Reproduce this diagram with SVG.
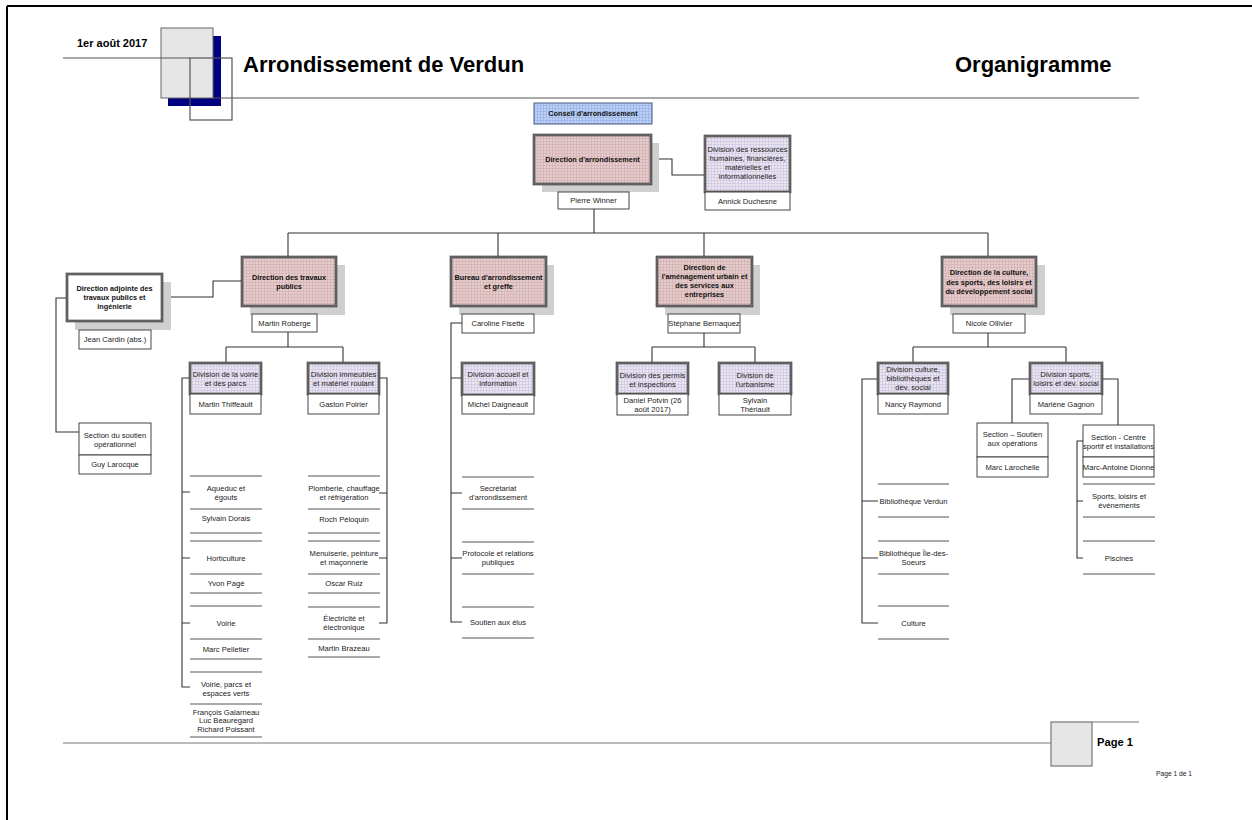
<svg xmlns="http://www.w3.org/2000/svg" width="1252" height="820" viewBox="0 0 1252 820">
<defs>
<pattern id="pk" width="3" height="3" patternUnits="userSpaceOnUse"><rect width="3" height="3" fill="#e6cccc"/><path d="M0,0.5H3M0.5,0V3" stroke="#cfadad" stroke-width="0.6"/></pattern>
<pattern id="lv" width="3" height="3" patternUnits="userSpaceOnUse"><rect width="3" height="3" fill="#eae5f3"/><path d="M0,0.5H3M0.5,0V3" stroke="#cac2da" stroke-width="0.6"/></pattern>
<pattern id="bl" width="3" height="3" patternUnits="userSpaceOnUse"><rect width="3" height="3" fill="#bcd0f6"/><path d="M0,0.5H3M0.5,0V3" stroke="#94afe6" stroke-width="0.6"/></pattern>
</defs>
<style>
.t{font-family:"Liberation Sans",Arial,sans-serif;font-size:7.6px;text-anchor:middle;fill:#222}
.b{font-weight:bold;font-size:7.3px;fill:#111}
.sh{fill:#cfcfcf}
.fo{stroke:#3a3a3a;stroke-width:2.6}
.fi{fill:none;stroke:#9a9a9a;stroke-width:0.8}
.nm{fill:#fff;stroke:#444;stroke-width:1}
.ln{stroke:#555;stroke-width:1;fill:none}
.cn{fill:none;stroke:#333;stroke-width:1.1}
.hd{font-family:"Liberation Sans",Arial,sans-serif;font-weight:bold;fill:#000}
</style>
<rect width="1252" height="820" fill="#fff"/>
<!-- page border -->
<path d="M7,6H1252M7,6V820" stroke="#000" stroke-width="2" fill="none"/>

<!-- header -->
<g id="header">
<text class="hd" x="77" y="47" font-size="11">1er août 2017</text>
<rect x="168" y="36" width="53" height="70" fill="#000080"/>
<rect x="161" y="28" width="52" height="70" fill="#e6e6e6" stroke="#666" stroke-width="1"/>
<path d="M63,58H190M213,98H1139" stroke="#555" stroke-width="1.2" fill="none"/>
<rect x="190" y="58" width="42" height="62" fill="none" stroke="#555" stroke-width="1.2"/>
<text class="hd" x="243" y="72" font-size="22">Arrondissement de Verdun</text>
<text class="hd" x="955" y="72" font-size="22">Organigramme</text>
</g>

<!-- footer -->
<g id="footer">
<path d="M63,743H1051M1092,722H1139" stroke="#777" stroke-width="1.2" fill="none"/>
<rect x="1051" y="722" width="41" height="44" fill="#e6e6e6" stroke="#777" stroke-width="1.2"/>
<text class="hd" x="1097" y="746" font-size="11.2">Page 1</text>
<text x="1156" y="776" font-family="Liberation Sans,Arial,sans-serif" font-size="6.7" fill="#222">Page 1 de 1</text>
</g>

<!-- connectors -->
<g id="connectors" class="cn">
<path d="M651,159H672V175H705"/>
<path d="M594,209V233M288,233H988M288,233V257M498,233V257M704,233V257M988,233V257"/>
<path d="M162,297H213V281H242"/>
<path d="M67,298H56V432H79"/>
<path d="M288,332V347M226,347H343M226,347V363M343,347V363"/>
<path d="M190,378H182V687H190M182,492H190M182,558H190M182,623H190"/>
<path d="M379,378H387V623H379M387,493H379M387,558H379"/>
<path d="M462,323H451V622H462M451,378H462M451,493H462M451,558H462"/>
<path d="M704,333V347M652,347H755M652,347V363M755,347V363"/>
<path d="M988,333V347M913,347H1066M913,347V363M1066,347V363"/>
<path d="M878,379H862V623H878M862,501H878M862,558H878"/>
<path d="M1030,379H1012V423"/>
<path d="M1102,379H1118V425"/>
<path d="M1083,441H1077V558H1083M1077,501H1083"/>
</g>

<!-- top -->
<g id="conseil">
<rect x="534" y="103" width="118" height="21" fill="url(#bl)" stroke="#4a5a80" stroke-width="1"/>
<text class="t b" x="593" y="115.7">Conseil d'arrondissement</text>
</g>
<g id="dir-arr">
<rect class="sh" x="542" y="143" width="117" height="49"/>
<rect class="fo" x="534" y="135" width="117" height="49" fill="url(#pk)"/>
<rect class="fi" x="534" y="135" width="117" height="49"/>
<text class="t b" x="592.5" y="161.7">Direction d'arrondissement</text>
</g>
<g id="pierre-winner">
<rect class="nm" x="558" y="192" width="71" height="17"/>
<text class="t" x="593.5" y="203.4">Pierre Winner</text>
</g>
<g id="div-ressources">
<rect class="fo" x="705" y="136" width="85" height="56" fill="url(#lv)"/>
<rect class="fi" x="705" y="136" width="85" height="56"/>
<text class="t" x="747.5" y="152">Division des ressources</text>
<text class="t" x="747.5" y="161">humaines, financières,</text>
<text class="t" x="747.5" y="170">matérielles et</text>
<text class="t" x="747.5" y="179">informationnelles</text>
<rect class="nm" x="705" y="192" width="85" height="18"/>
<text class="t" x="747.5" y="203.7">Annick Duchesne</text>
</g>

<!-- travaux publics -->
<g id="dir-travaux">
<rect class="sh" x="250" y="265" width="95" height="50"/>
<rect class="fo" x="242" y="257" width="94" height="49" fill="url(#pk)"/>
<rect class="fi" x="242" y="257" width="94" height="49"/>
<text class="t b" x="289" y="279.7">Direction des travaux</text>
<text class="t b" x="289" y="288.7">publics</text>
<rect class="nm" x="252" y="314" width="65" height="18"/>
<text class="t" x="284.5" y="325.7">Martin Roberge</text>
</g>
<g id="dir-adjointe">
<rect class="sh" x="75" y="282" width="96" height="48"/>
<rect class="fo" x="67" y="274" width="95" height="47" fill="#fff"/>
<rect class="fi" x="67" y="274" width="95" height="47"/>
<text class="t b" x="114.5" y="290.7">Direction adjointe des</text>
<text class="t b" x="114.5" y="299.7">travaux publics et</text>
<text class="t b" x="114.5" y="308.7">ingénierie</text>
<rect class="nm" x="79" y="330" width="72" height="19"/>
<text class="t" x="115" y="342.2">Jean Cardin (abs.)</text>
</g>
<g id="section-soutien-op">
<rect class="nm" x="79" y="423" width="72" height="32"/>
<text class="t" x="115" y="437.5">Section du soutien</text>
<text class="t" x="115" y="446.5">opérationnel</text>
<rect class="nm" x="79" y="455" width="72" height="19"/>
<text class="t" x="115" y="467.2">Guy Larocque</text>
</g>
<g id="div-voirie">
<rect class="fo" x="190" y="363" width="71" height="31" fill="url(#lv)"/>
<rect class="fi" x="190" y="363" width="71" height="31"/>
<text class="t" x="225.5" y="377.2">Division de la voirie</text>
<text class="t" x="225.5" y="386.2">et des parcs</text>
<rect class="nm" x="190" y="394" width="71" height="20"/>
<text class="t" x="225.5" y="406.7">Martin Thiffeault</text>
</g>
<g id="div-immeubles">
<rect class="fo" x="308" y="363" width="71" height="31" fill="url(#lv)"/>
<rect class="fi" x="308" y="363" width="71" height="31"/>
<text class="t" x="343.5" y="377.2">Division immeubles</text>
<text class="t" x="343.5" y="386.2">et matériel roulant</text>
<rect class="nm" x="308" y="394" width="71" height="20"/>
<text class="t" x="343.5" y="406.7">Gaston Poirier</text>
</g>
<g id="aqueduc">
<path class="ln" d="M190,476H262M190,509H262M190,533H262"/>
<text class="t" x="226" y="490.7">Aqueduc et</text>
<text class="t" x="226" y="499.7">égouts</text>
<text class="t" x="226" y="520.7">Sylvain Dorais</text>
</g>
<g id="horticulture">
<path class="ln" d="M190,541H262M190,574H262M190,593H262"/>
<text class="t" x="226" y="560.7">Horticulture</text>
<text class="t" x="226" y="585.7">Yvon Pagé</text>
</g>
<g id="voirie">
<path class="ln" d="M190,606H262M190,639H262M190,659H262"/>
<text class="t" x="226" y="625.7">Voirie</text>
<text class="t" x="226" y="651.7">Marc Pelletier</text>
</g>
<g id="voirie-parcs">
<path class="ln" d="M190,672H262M190,704H262M190,737H262"/>
<text class="t" x="226" y="686.7">Voirie, parcs et</text>
<text class="t" x="226" y="695.7">espaces verts</text>
<text class="t" x="226" y="714.7">François Galarneau</text>
<text class="t" x="226" y="723.2">Luc Beauregard</text>
<text class="t" x="226" y="731.7">Richard Poissant</text>
</g>
<g id="plomberie">
<path class="ln" d="M308,476H380M308,509H380M308,533H380"/>
<text class="t" x="344" y="490.7">Plomberie, chauffage</text>
<text class="t" x="344" y="499.7">et réfrigération</text>
<text class="t" x="344" y="521.7">Roch Péloquin</text>
</g>
<g id="menuiserie">
<path class="ln" d="M308,541H380M308,574H380M308,593H380"/>
<text class="t" x="344" y="555.7">Menuiserie, peinture</text>
<text class="t" x="344" y="565.2">et maçonnerie</text>
<text class="t" x="344" y="585.7">Oscar Ruiz</text>
</g>
<g id="electricite">
<path class="ln" d="M308,607H380M308,639H380M308,657H380"/>
<text class="t" x="344" y="620.7">Électricité et</text>
<text class="t" x="344" y="630.2">électronique</text>
<text class="t" x="344" y="650.7">Martin Brazeau</text>
</g>

<!-- bureau -->
<g id="bureau">
<rect class="sh" x="459" y="265" width="95" height="50"/>
<rect class="fo" x="451" y="257" width="95" height="49" fill="url(#pk)"/>
<rect class="fi" x="451" y="257" width="95" height="49"/>
<text class="t b" x="498.5" y="280.4">Bureau d'arrondissement</text>
<text class="t b" x="498.5" y="289.4">et greffe</text>
<rect class="nm" x="462" y="314" width="72" height="19"/>
<text class="t" x="498" y="326">Caroline Fisette</text>
</g>
<g id="div-accueil">
<rect class="fo" x="462" y="363" width="72" height="32" fill="url(#lv)"/>
<rect class="fi" x="462" y="363" width="72" height="32"/>
<text class="t" x="498" y="376.7">Division accueil et</text>
<text class="t" x="498" y="385.7">information</text>
<rect class="nm" x="462" y="395" width="72" height="19"/>
<text class="t" x="498" y="407.4">Michel Daigneault</text>
</g>
<g id="secretariat">
<path class="ln" d="M462,477H534M462,509H534"/>
<text class="t" x="498" y="490.7">Secrétariat</text>
<text class="t" x="498" y="499.7">d'arrondissement</text>
</g>
<g id="protocole">
<path class="ln" d="M462,542H534M462,574H534"/>
<text class="t" x="498" y="555.7">Protocole et relations</text>
<text class="t" x="498" y="565.2">publiques</text>
</g>
<g id="soutien-elus">
<path class="ln" d="M462,607H534M462,638H534"/>
<text class="t" x="498" y="625.2">Soutien aux élus</text>
</g>

<!-- amenagement -->
<g id="dir-amenagement">
<rect class="sh" x="665" y="265" width="95" height="50"/>
<rect class="fo" x="657" y="257" width="95" height="49" fill="url(#pk)"/>
<rect class="fi" x="657" y="257" width="95" height="49"/>
<text class="t b" x="704.5" y="270.4">Direction de</text>
<text class="t b" x="704.5" y="279.4">l'aménagement urbain et</text>
<text class="t b" x="704.5" y="288.4">des services aux</text>
<text class="t b" x="704.5" y="297.4">entreprises</text>
<rect class="nm" x="668" y="314" width="72" height="19"/>
<text class="t" x="704" y="326.2">Stéphane Bernaquez</text>
</g>
<g id="div-permis">
<rect class="fo" x="617" y="363" width="71" height="31" fill="url(#lv)"/>
<rect class="fi" x="617" y="363" width="71" height="31"/>
<text class="t" x="652.5" y="377.7">Division des permis</text>
<text class="t" x="652.5" y="386.7">et inspections</text>
<rect class="nm" x="617" y="394" width="71" height="21"/>
<text class="t" x="652.5" y="402.7">Daniel Potvin (26</text>
<text class="t" x="652.5" y="411.7">août 2017)</text>
</g>
<g id="div-urbanisme">
<rect class="fo" x="719" y="363" width="72" height="31" fill="url(#lv)"/>
<rect class="fi" x="719" y="363" width="72" height="31"/>
<text class="t" x="755" y="377.7">Division de</text>
<text class="t" x="755" y="386.7">l'urbanisme</text>
<rect class="nm" x="719" y="394" width="72" height="21"/>
<text class="t" x="755" y="402.7">Sylvain</text>
<text class="t" x="755" y="411.7">Thériault</text>
</g>

<!-- culture -->
<g id="dir-culture">
<rect class="sh" x="950" y="265" width="95" height="50"/>
<rect class="fo" x="942" y="257" width="94" height="49" fill="url(#pk)"/>
<rect class="fi" x="942" y="257" width="94" height="49"/>
<text class="t b" x="989" y="275.2">Direction de la culture,</text>
<text class="t b" x="989" y="284.7">des sports, des loisirs et</text>
<text class="t b" x="989" y="294.2">du développement social</text>
<rect class="nm" x="953" y="314" width="72" height="19"/>
<text class="t" x="989" y="326">Nicole Ollivier</text>
</g>
<g id="div-culture">
<rect class="fo" x="878" y="363" width="70" height="31" fill="url(#lv)"/>
<rect class="fi" x="878" y="363" width="70" height="31"/>
<text class="t" x="913" y="372.2">Division culture,</text>
<text class="t" x="913" y="381.2">bibliothèques et</text>
<text class="t" x="913" y="390.2">dév. social</text>
<rect class="nm" x="878" y="394" width="70" height="20"/>
<text class="t" x="913" y="406.7">Nancy Raymond</text>
</g>
<g id="div-sports">
<rect class="fo" x="1030" y="363" width="72" height="31" fill="url(#lv)"/>
<rect class="fi" x="1030" y="363" width="72" height="31"/>
<text class="t" x="1066" y="376.7">Division sports,</text>
<text class="t" x="1066" y="385.7">loisirs et dév. social</text>
<rect class="nm" x="1030" y="394" width="72" height="20"/>
<text class="t" x="1066" y="406.7">Marlène Gagnon</text>
</g>
<g id="section-soutien-ops">
<rect class="nm" x="977" y="423" width="71" height="34"/>
<text class="t" x="1012.5" y="436.7">Section – Soutien</text>
<text class="t" x="1012.5" y="445.7">aux opérations</text>
<rect class="nm" x="977" y="457" width="71" height="20"/>
<text class="t" x="1012.5" y="469.7">Marc Larochelle</text>
</g>
<g id="section-centre">
<rect class="nm" x="1083" y="425" width="71" height="32"/>
<text class="t" x="1118.5" y="439.7">Section - Centre</text>
<text class="t" x="1118.5" y="448.7">sportif et installations</text>
<rect class="nm" x="1083" y="457" width="71" height="20"/>
<text class="t" x="1118.5" y="469.7">Marc-Antoine Dionne</text>
</g>
<g id="bib-verdun">
<path class="ln" d="M878,484H949M878,517H949"/>
<text class="t" x="913.5" y="503.7">Bibliothèque Verdun</text>
</g>
<g id="bib-ile">
<path class="ln" d="M878,541H949M878,574H949"/>
<text class="t" x="913.5" y="555.7">Bibliothèque Île-des-</text>
<text class="t" x="913.5" y="565.2">Soeurs</text>
</g>
<g id="culture">
<path class="ln" d="M878,606H949M878,639H949"/>
<text class="t" x="913.5" y="625.7">Culture</text>
</g>
<g id="sports-loisirs">
<path class="ln" d="M1083,484H1155M1083,517H1155"/>
<text class="t" x="1119" y="499.2">Sports, loisirs et</text>
<text class="t" x="1119" y="508.2">événements</text>
</g>
<g id="piscines">
<path class="ln" d="M1083,541H1155M1083,574H1155"/>
<text class="t" x="1119" y="560.7">Piscines</text>
</g>
</svg>
